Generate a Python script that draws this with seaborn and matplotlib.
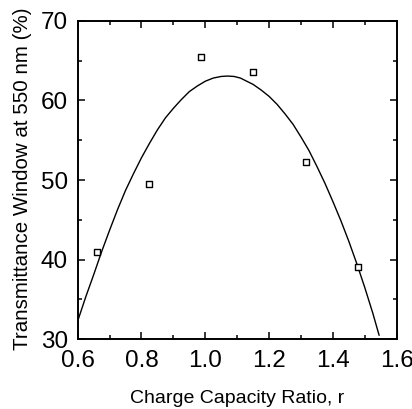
import numpy as np
import pandas as pd
import matplotlib
matplotlib.use("Agg")
import matplotlib.pyplot as plt
from matplotlib.ticker import MultipleLocator
import seaborn as sns

# measured points
ratio = [0.66, 0.824, 0.987, 1.151, 1.315, 1.48]
transmittance = [41.0, 49.5, 65.5, 63.6, 52.2, 39.1]

# fitted curve
fit_ratio = [0.600, 0.625, 0.650, 0.675, 0.700, 0.725, 0.750, 0.775, 0.800, 0.825,
             0.850, 0.875, 0.900, 0.925, 0.950, 0.975, 1.000, 1.025, 1.050, 1.070,
             1.090, 1.110, 1.130, 1.150, 1.175, 1.200, 1.225, 1.250, 1.275, 1.300,
             1.325, 1.350, 1.375, 1.400, 1.425, 1.450, 1.475, 1.500, 1.525, 1.545]
fit_transmittance = [32.3, 35.3, 38.1, 41.0, 43.7, 46.3, 48.7, 50.8, 52.8, 54.6,
                     56.3, 57.8, 59.0, 60.1, 61.1, 61.8, 62.4, 62.8, 63.0, 63.05,
                     63.0, 62.8, 62.4, 62.0, 61.3, 60.5, 59.5, 58.3, 57.0, 55.4,
                     53.7, 51.7, 49.6, 47.3, 44.9, 42.3, 39.5, 36.5, 33.3, 30.5]

x_ticks = [0.6, 0.8, 1.0, 1.2, 1.4, 1.6]
y_ticks = [30, 40, 50, 60, 70]

sns.set_style("ticks")
plt.rcParams['font.family'] = ['Liberation Sans', 'DejaVu Sans']
plt.rcParams.update({
    'xtick.direction': 'in', 'ytick.direction': 'in',
    'xtick.top': True, 'ytick.right': True,
    'xtick.major.size': 5, 'ytick.major.size': 5,
    'xtick.minor.size': 3, 'ytick.minor.size': 3,
    'xtick.major.width': 1.1, 'ytick.major.width': 1.1,
    'xtick.minor.width': 1.1, 'ytick.minor.width': 1.1,
    'xtick.color': 'black', 'ytick.color': 'black',
    'xtick.labelcolor': 'black', 'ytick.labelcolor': 'black',
    'axes.labelcolor': 'black', 'text.color': 'black',
    'axes.edgecolor': 'black', 'axes.linewidth': 1.4,
})

fig = plt.figure(figsize=(4.12, 4.09), dpi=100)
ax = fig.add_axes([0.1886, 0.1704, 0.7742, 0.779])

fit_df = pd.DataFrame({'r': fit_ratio, 'T': fit_transmittance})
pts_df = pd.DataFrame({'r': ratio, 'T': transmittance})

sns.lineplot(data=fit_df, x='r', y='T', ax=ax, color='black', linewidth=1.0,
             sort=False, estimator=None)
sns.scatterplot(data=pts_df, x='r', y='T', ax=ax, marker='s', s=22,
                facecolor='white', edgecolor='black', linewidth=1.0, zorder=3)

ax.set_xlim(0.6, 1.6)
ax.set_ylim(30, 70)
ax.set_xticks(x_ticks)
ax.set_xticklabels([f"{t:.1f}" for t in x_ticks])
ax.set_yticks(y_ticks)
ax.xaxis.set_minor_locator(MultipleLocator(0.1))
ax.yaxis.set_minor_locator(MultipleLocator(5))
ax.tick_params(axis='x', which='both', labelsize=17.5, pad=8)
ax.tick_params(axis='y', which='both', labelsize=17.5, pad=7)

for s in ax.spines.values():
    s.set_visible(True)

ax.set_xlabel('Charge Capacity Ratio, r', fontsize=14, va='center')
ax.set_ylabel('Transmittance Window at 550 nm (%)', fontsize=14.8, va='center')
ax.xaxis.set_label_coords(0.5, -0.187)
ax.yaxis.set_label_coords(-0.172, 0.505)

plt.savefig('out.png', dpi=100)
plt.close()
